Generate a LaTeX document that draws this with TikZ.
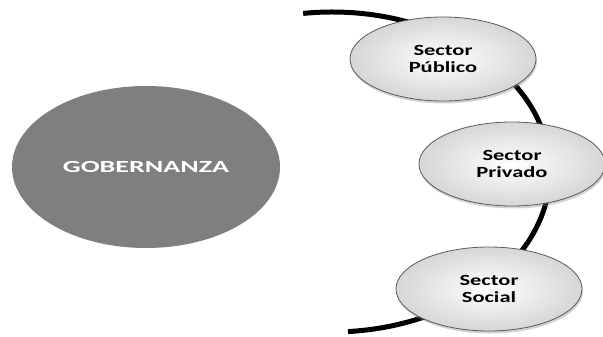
\documentclass[tikz,border=0pt]{standalone}
\usepackage{fontspec}
\usepackage{tikz}
\usetikzlibrary{shapes.geometric,shadows}
\newfontfamily\calib{Carlito}[FakeStretch=1.45]
\newfontfamily\calibwide{Carlito}[FakeStretch=1.65]
\definecolor{gob}{HTML}{7F7F7F}
\definecolor{rim}{HTML}{5A5A5A}

\begin{document}
\begin{tikzpicture}[x=1pt,y=-1pt,
  sector/.style={ellipse,draw=rim,line width=.8pt,inner color=white,outer color=gray!32,
    minimum width=186pt,minimum height=84pt,inner sep=0pt,align=center,
    font=\calib\bfseries\fontsize{15.5}{16.5}\selectfont,
    drop shadow={shadow xshift=1pt,shadow yshift=-2.5pt,opacity=.35}}]
  \useasboundingbox (0,0) rectangle (603,337);
  \draw[line width=5pt] (332,172) ++(97.6:218pt and 160pt)
    arc[start angle=97.6,end angle=-85.8,x radius=218pt,y radius=160pt];
  \node[ellipse,fill=gob,minimum width=268pt,minimum height=162pt,inner sep=0pt,
    text=white,font=\calibwide\bfseries\fontsize{17}{17}\selectfont] (gob) at (146,167) {GOBERNANZA};
  \node[sector] (pub) at (443,59) {Sector\\Público};
  \node[sector] (pri) at (512,164) {Sector\\Privado};
  \node[sector] (soc) at (489,289) {Sector\\Social};
\end{tikzpicture}
\end{document}
